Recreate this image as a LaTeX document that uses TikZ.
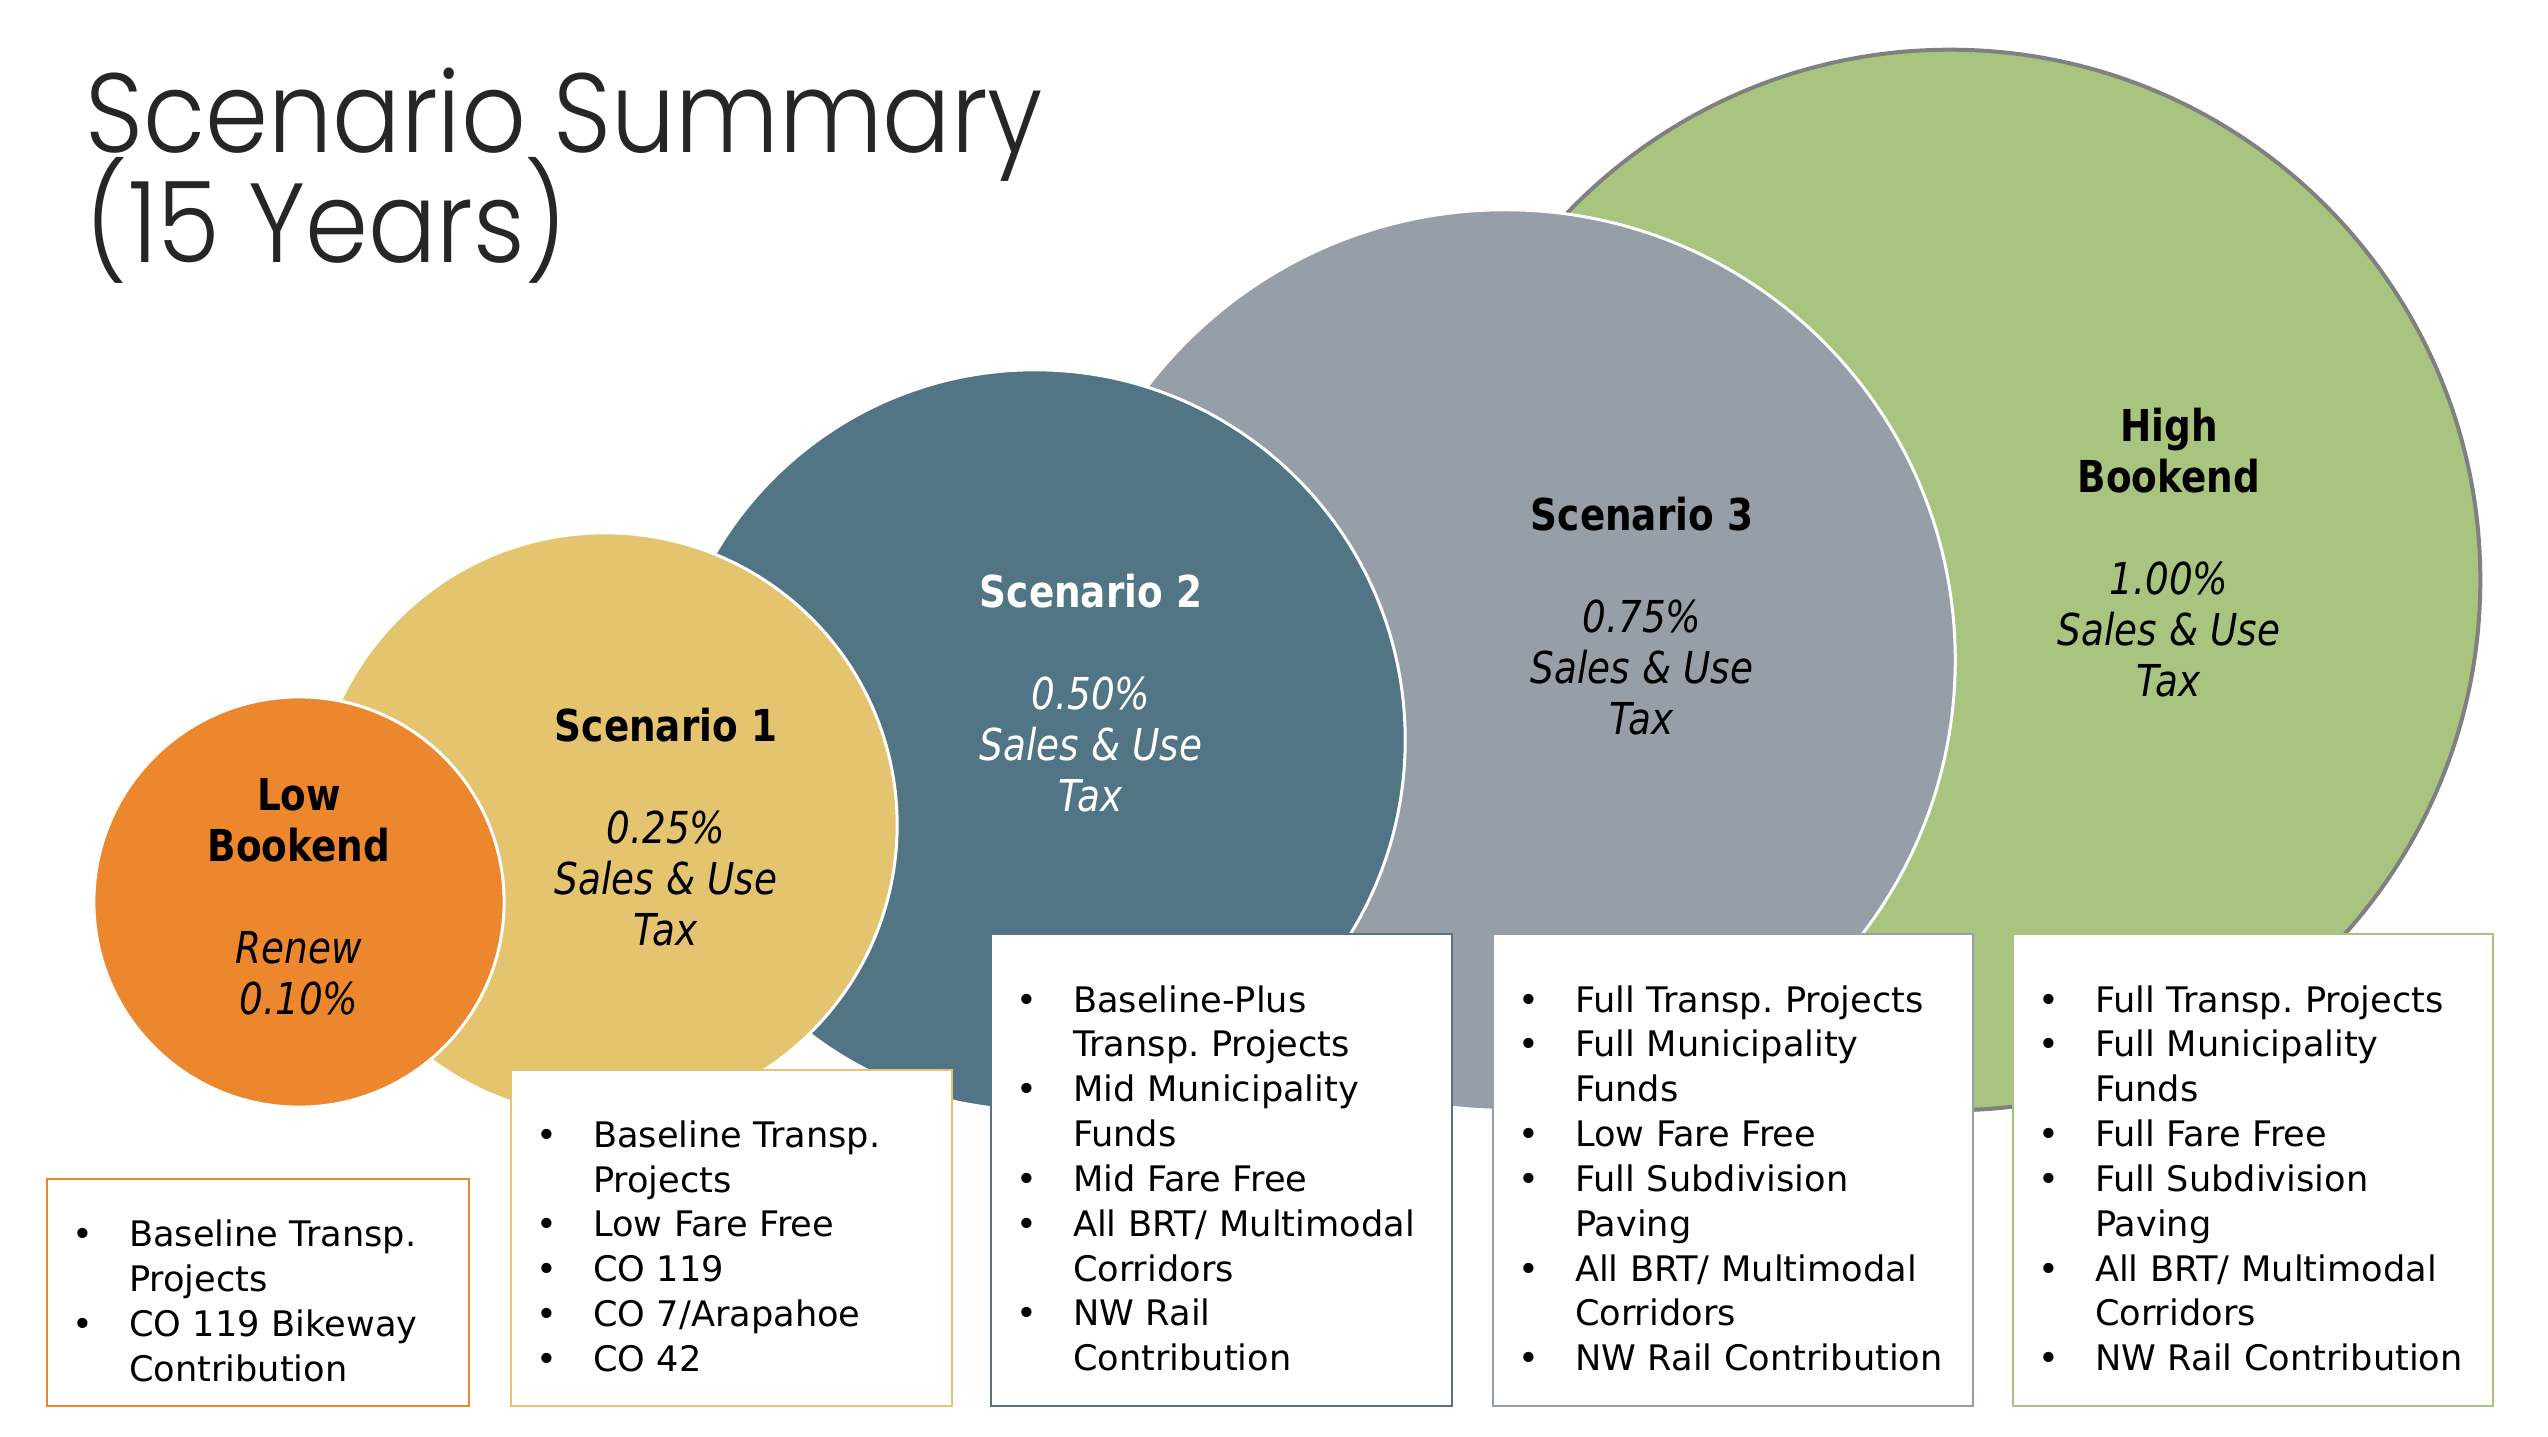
\documentclass[tikz,border=0pt]{standalone}
\usepackage{fontspec}
\setmainfont{DejaVu Sans}
\newfontfamily\bubfont{DejaVu Sans}[FakeStretch=0.85]
\newfontfamily\titlefont{Poppins Light}[FakeStretch=0.9]
\frenchspacing
\definecolor{lowC}{RGB}{237,135,45}
\definecolor{scOneC}{RGB}{229,196,111}
\definecolor{scTwoC}{RGB}{81,117,132}
\definecolor{scThreeC}{RGB}{150,158,167}
\definecolor{highC}{RGB}{169,196,127}
\definecolor{edgeC}{RGB}{128,128,128}
\definecolor{titleC}{RGB}{38,38,38}
\newcommand{\blt}[1]{\makebox[0.57cm][l]{\textbullet}\mbox{#1}}
\newcommand{\ind}[1]{\hspace*{0.57cm}\mbox{#1}}
\begin{document}
\begin{tikzpicture}[x={(0.01cm,0cm)},y={(0cm,-0.01cm)},
  bubble/.style={circle,draw=white,line width=0.03cm,inner sep=0},
  bubtxt/.style={align=center,inner sep=0,font=\bubfont\fontsize{12.5}{14.5}\selectfont},
  listbox/.style={draw,line width=0.02cm,fill=white,anchor=north west,inner xsep=0.25cm,inner ysep=0,align=left,
    font=\fontsize{10}{12.75}\selectfont,execute at begin node={\rule{0pt}{12.2pt}}},
  ttl/.style={anchor=base west,inner sep=0,text=titleC,font=\titlefont\fontsize{32}{32}\selectfont}]
\useasboundingbox (0,0) rectangle (2548,1436);
\node[ttl] (ttlA) at (85,152) {Scenario Summary};
\node[ttl] (ttlB) at (85,262) {(15 Years)};
\node[bubble,fill=highC,draw=edgeC,line width=0.04cm,minimum size=10.6cm] (high) at (1950,580) {};
\node[bubble,fill=scThreeC,minimum size=9cm] (scthree) at (1505,660) {};
\node[bubble,fill=scTwoC,minimum size=7.4cm] (sctwo) at (1035,740) {};
\node[bubble,fill=scOneC,minimum size=5.84cm] (scone) at (605,825) {};
\node[bubble,fill=lowC,minimum size=4.1cm] (low) at (299,902) {};
\node[bubtxt] (lowtxt) at (299,897) {\textbf{Low}\\\textbf{Bookend}\\[14.5pt]\textit{Renew}\\\textit{0.10\%}};
\node[bubtxt] (sconetxt) at (666,827) {\textbf{Scenario 1}\\[14.5pt]\textit{0.25\%}\\\textit{Sales \& Use}\\\textit{Tax}};
\node[bubtxt,text=white] (sctwotxt) at (1091,693) {\textbf{Scenario 2}\\[14.5pt]\textit{0.50\%}\\\textit{Sales \& Use}\\\textit{Tax}};
\node[bubtxt] (scthreetxt) at (1642,616) {\textbf{Scenario 3}\\[14.5pt]\textit{0.75\%}\\\textit{Sales \& Use}\\\textit{Tax}};
\node[bubtxt] (hightxt) at (2169,553) {\textbf{High}\\\textbf{Bookend}\\[14.5pt]\textit{1.00\%}\\\textit{Sales \& Use}\\\textit{Tax}};
\node[listbox,draw=lowC,text width=3.72cm,minimum height=2.27cm] (lowlist) at (46,1178)
  {\blt{Baseline Transp.}\\\ind{Projects}\\\blt{CO 119 Bikeway}\\\ind{Contribution}};
\node[listbox,draw=scOneC,text width=3.91cm,minimum height=3.36cm] (sconelist) at (510,1069)
  {\blt{Baseline Transp.}\\\ind{Projects}\\\blt{Low Fare Free}\\\blt{CO 119}\\\blt{CO 7/Arapahoe}\\\blt{CO 42}};
\node[listbox,draw=scTwoC,text width=4.11cm,minimum height=4.72cm] (sctwolist) at (990,933)
  {\blt{Baseline-Plus}\\\ind{Transp. Projects}\\\blt{Mid Municipality}\\\ind{Funds}\\\blt{Mid Fare Free}\\\blt{All BRT/ Multimodal}\\\ind{Corridors}\\\blt{NW Rail}\\\ind{Contribution}};
\node[listbox,draw=scThreeC,text width=4.3cm,minimum height=4.72cm] (scthreelist) at (1492,933)
  {\blt{Full Transp. Projects}\\\blt{Full Municipality}\\\ind{Funds}\\\blt{Low Fare Free}\\\blt{Full Subdivision}\\\ind{Paving}\\\blt{All BRT/ Multimodal}\\\ind{Corridors}\\\blt{NW Rail Contribution}};
\node[listbox,draw=highC,text width=4.3cm,minimum height=4.72cm] (highlist) at (2012,933)
  {\blt{Full Transp. Projects}\\\blt{Full Municipality}\\\ind{Funds}\\\blt{Full Fare Free}\\\blt{Full Subdivision}\\\ind{Paving}\\\blt{All BRT/ Multimodal}\\\ind{Corridors}\\\blt{NW Rail Contribution}};
\end{tikzpicture}
\end{document}
